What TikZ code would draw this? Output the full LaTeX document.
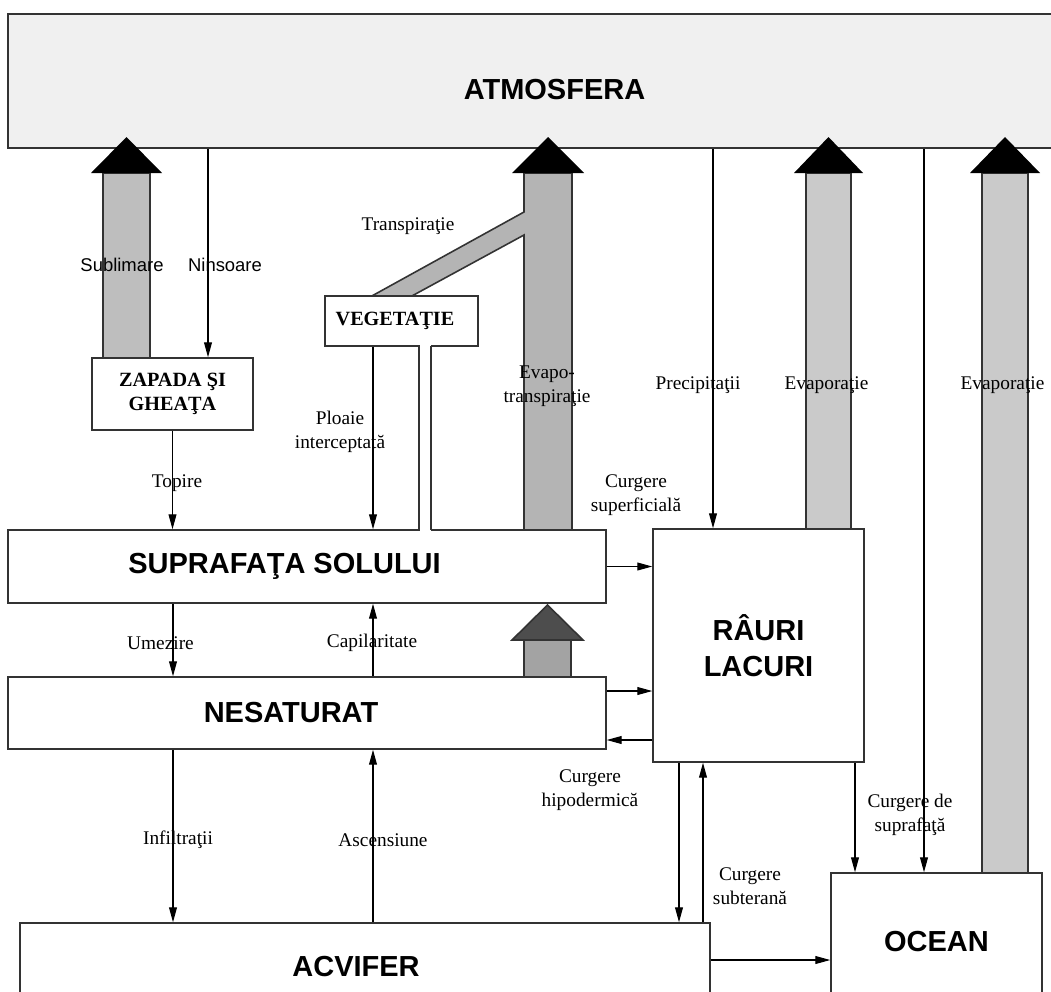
\documentclass[tikz,border=0pt]{standalone}
\usepackage{fontspec}
\setmainfont{Liberation Serif}
\setsansfont{Liberation Sans}
\usetikzlibrary{arrows.meta, positioning}
\definecolor{atmgray}{HTML}{F0F0F0}
\definecolor{shaftA}{HTML}{BEBEBE}
\definecolor{shaftB}{HTML}{B4B4B4}
\definecolor{shaftC}{HTML}{CACACA}
\definecolor{shaftD}{HTML}{A3A3A3}
\definecolor{headD}{HTML}{4D4D4D}
\definecolor{linegray}{HTML}{333333}
\tikzstyle{arrow} = [line width=0.6pt, -{Triangle[length=8.5pt,width=4.5pt]}]
\tikzstyle{box} = [rectangle, draw=linegray, line width=0.9pt, fill=white, inner sep=0pt]
\tikzstyle{title} = [font=\sffamily\bfseries\fontsize{16.5}{20.5}\selectfont]
\tikzstyle{stitle} = [font=\bfseries\fontsize{11.5}{13.7}\selectfont]
\tikzstyle{lbl} = [font=\fontsize{11}{13.7}\selectfont]
\tikzstyle{slbl} = [font=\sffamily\fontsize{10.5}{12.6}\selectfont]
\tikzstyle{shaft} = [draw=linegray, line width=0.9pt]
\tikzset{every node/.style={align=center}}

\begin{document}
\begin{tikzpicture}[x=0.02cm, y=-0.02cm]
    \clip (0,0) rectangle (1051,991);
    \fill[white] (0,0) rectangle (1051,991);

    \node (atm) [box, fill=atmgray, title, minimum width=21.86cm, minimum height=2.68cm, text height=20.9pt, text depth=0pt] at (554.5,81) {ATMOSFERA};

    % vapour flows
    \foreach \xl/\xr/\yb/\col in {103/150/358/shaftA, 806/851/529/shaftC, 982/1028/873/shaftC} {
        \filldraw[shaft, fill=\col] (\xl,\yb) rectangle (\xr,173);
        \fill[black] (\xl-12,173) -- ({(\xl+\xr)/2},137) -- (\xr+12,173) -- cycle;
    }
    \filldraw[shaft, fill=shaftB] (524,530) -- (524,235) -- (410,297) -- (370,297) -- (524,212) -- (524,173) -- (572,173) -- (572,530) -- cycle;
    \fill[black] (512,173) -- (548,137) -- (584,173) -- cycle;
    \filldraw[shaft, fill=shaftD] (524,677) rectangle (571,640);
    \filldraw[shaft, fill=headD] (512,640) -- (547.5,605) -- (583,640) -- cycle;

    \node (zap) [box, stitle, minimum width=3.22cm, minimum height=1.44cm] at (172.5,394) {ZAPADA ŞI\\GHEAŢA};
    \node (veg) [box, stitle, minimum width=3.06cm, minimum height=1.0cm] at (401.5,321) {VEGETAŢIE\hspace*{7.4pt}};
    \node (sol) [box, title, minimum width=11.96cm, minimum height=1.46cm] at (307,566.5) {SUPRAFAŢA SOLULUI\hspace*{25.6pt}};
    \node (nes) [box, title, minimum width=11.96cm, minimum height=1.44cm] at (307,713) {NESATURAT\hspace*{18.2pt}};
    \node (rau) [box, title, minimum width=4.22cm, minimum height=4.66cm] at (758.5,645.5) {RÂURI\\LACURI};
    \node (acv) [box, title, minimum width=13.8cm, minimum height=1.74cm] at (365,966.5) {ACVIFER\hspace*{10.2pt}};
    \node (oce) [box, title, minimum width=4.22cm, minimum height=2.74cm] at (936.5,941.5) {OCEAN};

    % channel from vegetation to soil
    \fill[white] (419.5,345) rectangle (430.5,531);
    \draw[linegray, line width=0.9pt] (419,346) -- (419,530) (431,346) -- (431,530);

    \coordinate (c1) at (173,0);
    \coordinate (c2) at (373,0);
    \coordinate (c3) at (208,0);
    \coordinate (c4) at (713,0);
    \coordinate (c5) at (924,0);
    \coordinate (c6) at (679,0);
    \coordinate (c7) at (703,0);
    \coordinate (c8) at (855,0);

    \draw[arrow] (atm.south -| c3) -- (zap.north -| c3);
    \draw[arrow] (zap.south) -- (zap.south |- sol.north);
    \draw[arrow] (veg.south -| c2) -- (sol.north -| c2);
    \draw[arrow] (atm.south -| c4) -- (rau.north -| c4);
    \draw[arrow] (atm.south -| c5) -- (oce.north -| c5);
    \draw[arrow] (sol.south -| c1) -- (nes.north -| c1);
    \draw[arrow] (nes.north -| c2) -- (sol.south -| c2);
    \draw[arrow] (nes.south -| c1) -- (acv.north -| c1);
    \draw[arrow] (acv.north -| c2) -- (nes.south -| c2);
    \draw[arrow] (sol.east) -- (sol.east -| rau.west);
    \draw[arrow] ([yshift=0.44cm]nes.east) -- ([yshift=0.44cm]nes.east -| rau.west);
    \draw[arrow] ([yshift=-0.54cm]nes.east -| rau.west) -- ([yshift=-0.54cm]nes.east);
    \draw[arrow] (rau.south -| c6) -- (acv.north -| c6);
    \draw[arrow] (acv.north -| c7) -- (rau.south -| c7);
    \draw[arrow] (rau.south -| c8) -- (oce.north -| c8);
    \draw[arrow] ([yshift=0.13cm]acv.east) -- ([yshift=0.13cm]acv.east -| oce.west);

    \node (lsub) [slbl] at (122,265) {Sublimare};
    \node (lnin) [slbl] at (225,265) {Ninsoare};
    \node (ltra) [lbl] at (408,226) {Transpiraţie};
    \node (lplo) [lbl] at (340,432) {Ploaie\\interceptată};
    \node (levt) [lbl] at (547,386) {Evapo-\\transpiraţie};
    \node (lpre) [lbl] at (698,385) {Precipitaţii};
    \node (lev1) [lbl] at (826.5,385) {Evaporaţie};
    \node (lev2) [lbl] at (1002.5,385) {Evaporaţie};
    \node (lcsu) [lbl] at (636,495) {Curgere\\superficială};
    \node (ltop) [lbl] at (177,483) {Topire};
    \node (lume) [lbl] at (160.5,643) {Umezire};
    \node (lcap) [lbl] at (372,643) {Capilaritate};
    \node (lhip) [lbl] at (590,790) {Curgere\\hipodermică};
    \node (linf) [lbl] at (178,840) {Infiltraţii};
    \node (lasc) [lbl] at (383,840) {Ascensiune};
    \node (lsbt) [lbl] at (750,886) {Curgere\\subterană};
    \node (lcds) [lbl] at (910,815) {Curgere de\\suprafaţă};
\end{tikzpicture}
\end{document}
